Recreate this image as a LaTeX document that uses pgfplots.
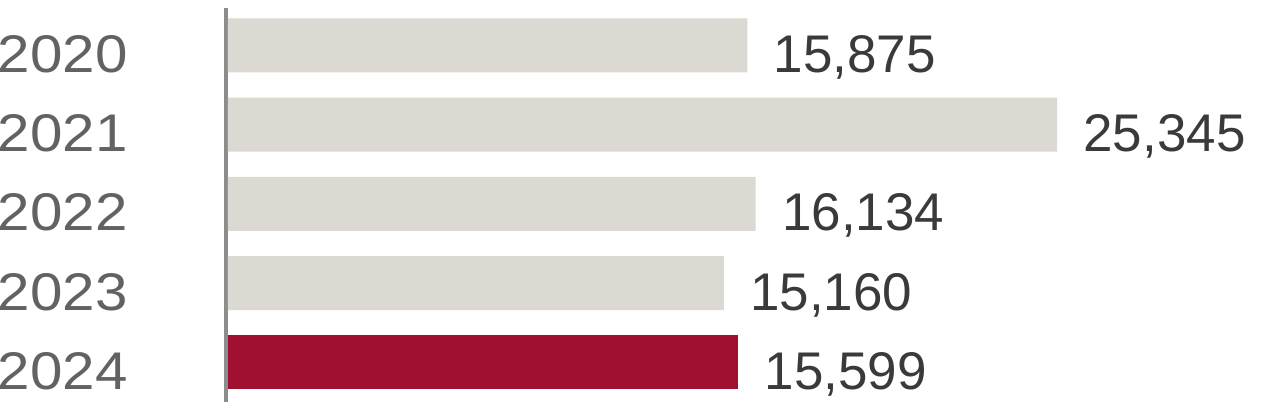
\documentclass[border=0pt]{standalone}
\usepackage{fontspec}
\setmainfont{Liberation Sans}
\newfontfamily\yearfont[FakeStretch=1.1]{Liberation Sans}
\usepackage{pgfplots}
\pgfplotsset{compat=1.18}
\definecolor{bargray}{HTML}{DCD9D3}
\definecolor{barred}{HTML}{A01030}
\definecolor{axgray}{HTML}{8C8C8C}
\definecolor{yeargray}{HTML}{626262}
\definecolor{valgray}{HTML}{3A3A3A}
\begin{document}
\begin{tikzpicture}
\path[use as bounding box] (0,0) rectangle (633pt,204pt);
\begin{axis}[
  at={(113pt,3pt)}, anchor=south west,
  scale only axis, width=490pt, height=197pt,
  xbar, bar width=27pt, bar shift=0pt,
  xmin=-61, xmax=29900, ymin=-0.47, ymax=4.5, y dir=reverse,
  axis x line=none, axis y line*=left,
  y axis line style={axgray, line width=2pt, -},
  ytick={0,1,2,3,4}, yticklabels={2020,2021,2022,2023,2024},
  major tick length=0pt,
  yticklabel style={anchor=base east, inner sep=0pt, xshift=-49pt, yshift=-13.5pt,
    font=\yearfont\fontsize{26.5}{30}\selectfont, text=yeargray},
  nodes near coords, point meta=explicit symbolic,
  every node near coord/.append style={anchor=base west, inner sep=0pt, xshift=13pt, yshift=-13.5pt,
    font=\fontsize{26.5}{30}\selectfont, text=valgray},
]
\addplot[draw=none, fill=bargray] table[x=v, y=y, meta=lab] {
v y lab
15875 0 15,875
25345 1 25,345
16134 2 16,134
15160 3 15,160
};
\addplot[draw=none, fill=barred] table[x=v, y=y, meta=lab] {
v y lab
15599 4 15,599
};
\end{axis}
\end{tikzpicture}
\end{document}
